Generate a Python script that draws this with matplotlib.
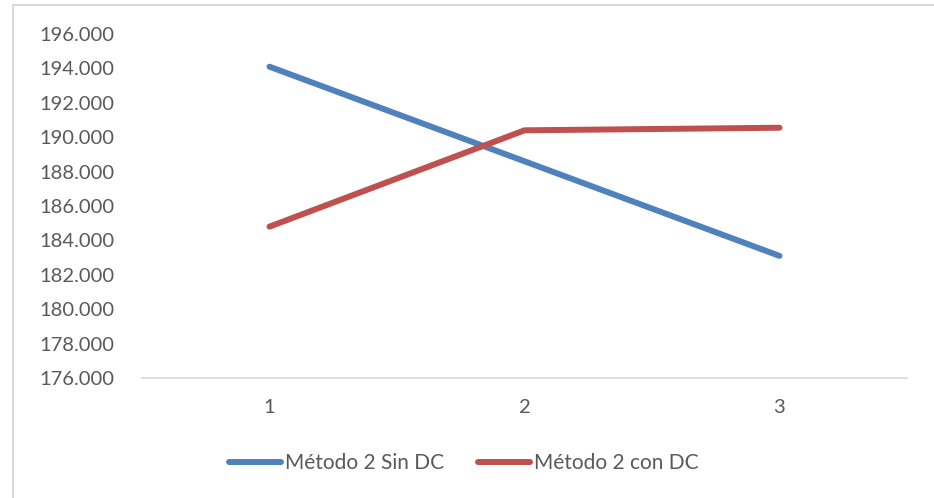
import matplotlib
matplotlib.use("Agg")
import matplotlib.pyplot as plt
from matplotlib.patches import Rectangle
from matplotlib.ticker import FuncFormatter

categories = ["1", "2", "3"]
sin_dc = [194100, 188600, 183100]
con_dc = [184800, 190400, 190550]
series_labels = ["Método 2 Sin DC", "Método 2 con DC"]
y_ticks = list(range(176000, 196001, 2000))

W, H = 934, 498
fig = plt.figure(figsize=(W / 100, H / 100), dpi=100)
plt.rcParams["font.family"] = ["Lato", "DejaVu Sans"]

# chart frame (light grey border)
fig.patches.append(Rectangle((12.5 / W, -0.1), 1.2, 1 - 5.5 / H + 0.1,
                             transform=fig.transFigure, fill=False,
                             edgecolor="#d9d9d9", linewidth=1.5))

ax = fig.add_axes([142 / W, 1 - 378 / H, (907 - 142) / W, (378 - 34) / H])
x = range(len(categories))
ax.plot(x, sin_dc, color="#4f81bd", linewidth=4.3, solid_capstyle="round",
        label=series_labels[0])
ax.plot(x, con_dc, color="#c0504d", linewidth=4.3, solid_capstyle="round",
        label=series_labels[1])

ax.set_xlim(-0.5, len(categories) - 0.5)
ax.set_ylim(176000, 196000)
ax.set_yticks(y_ticks)
ax.yaxis.set_major_formatter(FuncFormatter(lambda v, p: f"{int(v):,}".replace(",", ".")))
ax.set_xticks(list(x))
ax.set_xticklabels(categories)

for s in ["top", "right", "left"]:
    ax.spines[s].set_visible(False)
ax.spines["bottom"].set_color("#d9d9d9")
ax.spines["bottom"].set_linewidth(1.2)
ax.tick_params(axis="both", length=0, labelsize=14.5, labelcolor="#595959")
ax.tick_params(axis="y", pad=20)
ax.tick_params(axis="x", pad=15)

leg = fig.legend(loc="center", bbox_to_anchor=(464 / W, 1 - 463 / H), ncol=2,
                 frameon=False, fontsize=15, handlelength=2.5, handletextpad=0.2,
                 columnspacing=1.6)
for t in leg.get_texts():
    t.set_color("#595959")

fig.savefig("out.png", dpi=100)
